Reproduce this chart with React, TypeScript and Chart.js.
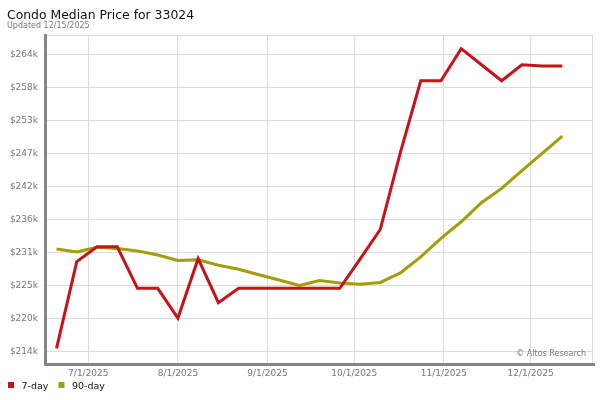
import React, { useEffect, useRef } from "react";
import { Chart, registerables } from "chart.js";

Chart.register(...registerables);

const titleText = "Condo Median Price for 33024";
const subtitleText = "Updated 12/15/2025";
const watermarkText = "© Altos Research";

const weekDates = [
  "6/20/2025", "6/27/2025", "7/4/2025", "7/11/2025", "7/18/2025", "7/25/2025",
  "8/1/2025", "8/8/2025", "8/15/2025", "8/22/2025", "8/29/2025", "9/5/2025",
  "9/12/2025", "9/19/2025", "9/26/2025", "10/3/2025", "10/10/2025", "10/17/2025",
  "10/24/2025", "10/31/2025", "11/7/2025", "11/14/2025", "11/21/2025", "11/28/2025",
  "12/5/2025", "12/12/2025",
];

// values in $k
const sevenDay = [
  214.6, 229.2, 231.7, 231.7, 224.7, 224.7, 219.7, 229.7, 222.3, 224.7, 224.7, 224.7,
  224.7, 224.7, 224.7, 229.6, 234.6, 247.6, 259.6, 259.6, 265.0, 262.3, 259.6, 262.3,
  262.1, 262.1,
];
const ninetyDay = [
  231.3, 230.8, 231.6, 231.4, 231.0, 230.3, 229.4, 229.5, 228.6, 227.9, 227.0, 226.1,
  225.2, 226.0, 225.6, 225.4, 225.7, 227.3, 230.0, 233.1, 235.9, 239.1, 241.5, 244.5,
  247.4, 250.3,
];

const seriesNames = ["7-day", "90-day"];
const seriesColors = ["#c8121a", "#a39d06"];

const xTickLabels = ["7/1/2025", "8/1/2025", "9/1/2025", "10/1/2025", "11/1/2025", "12/1/2025"];
const yTicks = [214, 219.55, 225.1, 230.65, 236.2, 241.75, 247.3, 252.85, 258.4, 263.95];
const yMin = 212.15;
const yMax = 267.3;
const xMinDays = -14.3;
const xMaxDays = 174.6;

function dayOf(s: string): number {
  const [m, d, y] = s.split("/").map(Number);
  return (Date.UTC(y, m - 1, d) - Date.UTC(2025, 6, 1)) / 86400000;
}

const FONT = "'DejaVu Sans', sans-serif";

const decorPlugin = {
  id: "decor",
  beforeDatasetsDraw(chart: any) {
    const { ctx, chartArea: a } = chart;
    ctx.save();
    ctx.strokeStyle = "#dcdcdc";
    ctx.lineWidth = 1;
    ctx.beginPath();
    ctx.moveTo(a.left, a.top + 0.5);
    ctx.lineTo(a.right, a.top + 0.5);
    ctx.moveTo(a.right - 0.5, a.top);
    ctx.lineTo(a.right - 0.5, a.bottom);
    ctx.stroke();
    ctx.restore();
  },
  afterDraw(chart: any) {
    const { ctx, chartArea: a } = chart;
    ctx.save();
    // axis lines
    ctx.fillStyle = "#858585";
    ctx.fillRect(a.left - 3, a.top - 1, 3, a.bottom - a.top + 4);
    ctx.fillRect(a.left - 3, a.bottom, a.right - a.left + 5, 3);
    // watermark
    ctx.font = `8px ${FONT}`;
    ctx.fillStyle = "#777";
    ctx.textAlign = "right";
    ctx.textBaseline = "middle";
    ctx.fillText(watermarkText, a.right - 7, a.bottom - 9);
    // title
    ctx.textAlign = "left";
    ctx.textBaseline = "alphabetic";
    ctx.fillStyle = "#111";
    ctx.font = `12.4px ${FONT}`;
    ctx.fillText(titleText, 7, 19);
    ctx.fillStyle = "#777";
    ctx.font = `8px ${FONT}`;
    ctx.fillText(subtitleText, 7, 28);
    // legend
    ctx.font = `9.5px ${FONT}`;
    let x = 8;
    seriesNames.forEach((name, i) => {
      ctx.fillStyle = seriesColors[i];
      ctx.fillRect(x, 382, 6, 6);
      ctx.fillStyle = "#111";
      ctx.fillText(name, x + 13.5, 389);
      x += 13.5 + ctx.measureText(name).width + 10;
    });
    ctx.restore();
  },
};

export default function App() {
  const ref = useRef<HTMLCanvasElement | null>(null);

  useEffect(() => {
    if (!ref.current) return;
    Chart.defaults.font.family = FONT;
    const chart = new Chart(ref.current, {
      type: "line",
      data: {
        datasets: [
          {
            label: seriesNames[0],
            data: weekDates.map((d, i) => ({ x: dayOf(d), y: sevenDay[i] })),
            borderColor: seriesColors[0],
            backgroundColor: seriesColors[0],
            borderWidth: 3,
            pointRadius: 0,
            tension: 0,
          },
          {
            label: seriesNames[1],
            data: weekDates.map((d, i) => ({ x: dayOf(d), y: ninetyDay[i] })),
            borderColor: seriesColors[1],
            backgroundColor: seriesColors[1],
            borderWidth: 3,
            pointRadius: 0,
            tension: 0,
          },
        ],
      },
      options: {
        animation: false,
        responsive: false,
        layout: { padding: { top: 35, right: 7, left: 0, bottom: 0 } },
        plugins: {
          legend: { display: false },
          title: { display: false },
          tooltip: { enabled: false },
        },
        scales: {
          x: {
            type: "linear",
            min: xMinDays,
            max: xMaxDays,
            afterBuildTicks: (scale: any) => {
              scale.ticks = xTickLabels.map((l) => ({ value: dayOf(l) }));
            },
            afterFit: (scale: any) => {
              scale.height = 37;
            },
            ticks: {
              callback: (_v: any, i: number) => xTickLabels[i],
              color: "#777",
              font: { size: 9 },
              padding: 5,
              maxRotation: 0,
              autoSkip: false,
            },
            grid: { color: "#dcdcdc", lineWidth: 1, drawTicks: false },
            border: { display: false },
          },
          y: {
            type: "linear",
            min: yMin,
            max: yMax,
            afterBuildTicks: (scale: any) => {
              scale.ticks = yTicks.map((v) => ({ value: v }));
            },
            afterFit: (scale: any) => {
              scale.width = 47;
            },
            ticks: {
              callback: (v: any) => "$" + Math.round(Number(v)) + "k",
              color: "#777",
              font: { size: 9 },
              padding: 9,
              autoSkip: false,
            },
            grid: { color: "#dcdcdc", lineWidth: 1, drawTicks: false },
            border: { display: false },
          },
        },
      },
      plugins: [decorPlugin],
    });
    return () => chart.destroy();
  }, []);

  return (
    <div style={{ position: "absolute", left: 0, top: 0, width: 600, height: 400, background: "#fff" }}>
      <canvas ref={ref} width={600} height={400} style={{ display: "block" }} />
    </div>
  );
}
